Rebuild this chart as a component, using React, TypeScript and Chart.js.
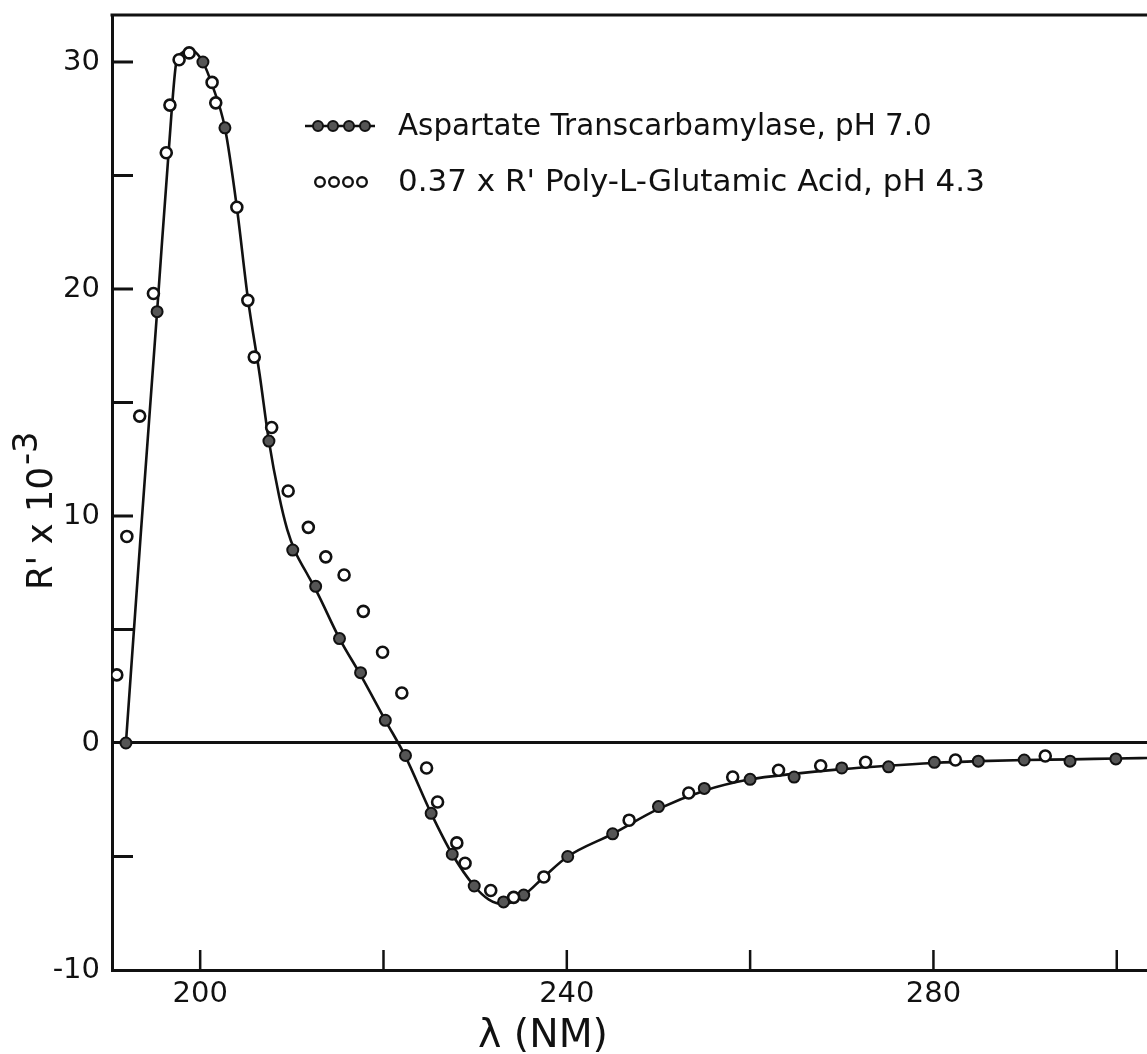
import React, { useEffect, useRef } from 'react';
import { Chart, registerables } from 'chart.js';

Chart.register(...registerables);

// ---- data ----
const curveWavelength = [191.9, 193.5, 195.3, 196.9, 197.4, 198.0, 198.9, 199.7, 200.3, 201.3, 202.7, 204.0, 205.2, 206.5, 207.5, 208.6, 209.5, 210.4, 211.6, 212.8, 215.2, 217.5, 220.2, 222.4, 225.2, 227.5, 229.9, 231.5, 233.1, 235.3, 237.5, 240.1, 245.0, 250.0, 255.0, 260.0, 265.0, 270.0, 275.0, 280.0, 285.0, 290.0, 295.0, 300.0, 303.5];
const curveValues = [0, 9.1, 19.0, 27.9, 30.0, 30.4, 30.55, 30.35, 30.0, 29.0, 27.1, 23.6, 19.6, 16.2, 13.3, 10.9, 9.4, 8.4, 7.5, 6.6, 4.6, 3.0, 1.0, -0.6, -3.1, -4.9, -6.3, -6.9, -7.1, -6.7, -5.9, -5.0, -4.0, -2.9, -2.1, -1.6, -1.35, -1.15, -1.0, -0.88, -0.8, -0.75, -0.72, -0.68, -0.66];

const atcWavelength = [191.9, 195.3, 200.3, 202.7, 207.5, 210.1, 212.6, 215.2, 217.5, 220.2, 222.4, 225.2, 227.5, 229.9, 233.1, 235.3, 240.1, 245.0, 250.0, 255.0, 260.0, 264.8, 270.0, 275.1, 280.1, 284.9, 289.9, 294.9, 299.9];
const atcValues = [0, 19.0, 30.0, 27.1, 13.3, 8.5, 6.9, 4.6, 3.1, 1.0, -0.55, -3.1, -4.9, -6.3, -7.0, -6.7, -5.0, -4.0, -2.8, -2.0, -1.6, -1.5, -1.1, -1.05, -0.85, -0.8, -0.75, -0.8, -0.7];

const pgaWavelength = [190.9, 192.0, 193.4, 194.9, 196.3, 196.7, 197.7, 198.8, 201.3, 201.7, 204.0, 205.2, 205.9, 207.8, 209.6, 211.8, 213.7, 215.7, 217.8, 219.9, 222.0, 224.7, 225.9, 228.0, 228.9, 231.7, 234.2, 237.5, 246.8, 253.3, 258.1, 263.1, 267.7, 272.6, 282.4, 292.2];
const pgaValues = [3.0, 9.1, 14.4, 19.8, 26.0, 28.1, 30.1, 30.4, 29.1, 28.2, 23.6, 19.5, 17.0, 13.9, 11.1, 9.5, 8.2, 7.4, 5.8, 4.0, 2.2, -1.1, -2.6, -4.4, -5.3, -6.5, -6.8, -5.9, -3.4, -2.2, -1.5, -1.2, -1.0, -0.85, -0.75, -0.57];

const xLabelValues = [200, 240, 280];
const yLabelValues = [30, 20, 10, 0, -10];
const legendLabels = ['Aspartate Transcarbamylase, pH 7.0', "0.37 x R' Poly-L-Glutamic Acid, pH 4.3"];
const xTitle = 'λ (NM)';
const yTitleMain = "R' x 10";
const yTitleSup = '-3';

const FONT = '"DejaVu Sans", sans-serif';
const W = 1147;
const H = 1054;

function fitSize(ctx: CanvasRenderingContext2D, text: string, target: number, base: number) {
  ctx.font = `${base}px ${FONT}`;
  const w = ctx.measureText(text).width;
  return (base * target) / w;
}

const decorPlugin = {
  id: 'decor',
  beforeDatasetsDraw(chart: any) {
    const ctx: CanvasRenderingContext2D = chart.ctx;
    const xs = chart.scales.x;
    const ys = chart.scales.y;
    const area = chart.chartArea;
    ctx.save();
    ctx.strokeStyle = '#111';
    ctx.lineCap = 'butt';
    // top border
    ctx.lineWidth = 3;
    ctx.beginPath();
    ctx.moveTo(area.left - 1.5, area.top);
    ctx.lineTo(W, area.top);
    ctx.stroke();
    // inward y ticks every 5
    for (let v = -5; v <= 30; v += 5) {
      if (v === 0) continue;
      const py = ys.getPixelForValue(v);
      ctx.beginPath();
      ctx.moveTo(area.left, py);
      ctx.lineTo(area.left + 21, py);
      ctx.stroke();
    }
    // inward x ticks every 20
    ctx.lineWidth = 2.5;
    for (let v = 200; v <= 300; v += 20) {
      const px = xs.getPixelForValue(v);
      ctx.beginPath();
      ctx.moveTo(px, area.bottom);
      ctx.lineTo(px, area.bottom - 20);
      ctx.stroke();
    }
    ctx.restore();
  },
  afterDraw(chart: any) {
    const ctx: CanvasRenderingContext2D = chart.ctx;
    ctx.save();
    ctx.fillStyle = '#111';
    ctx.strokeStyle = '#111';
    // legend row 1
    ctx.lineWidth = 2.5;
    ctx.beginPath();
    ctx.moveTo(305, 126);
    ctx.lineTo(375, 126);
    ctx.stroke();
    [318, 333, 349, 365].forEach((x) => {
      ctx.beginPath();
      ctx.arc(x, 126, 5, 0, Math.PI * 2);
      ctx.fillStyle = '#555';
      ctx.fill();
      ctx.lineWidth = 2;
      ctx.stroke();
    });
    // legend row 2
    [320, 334, 348, 362].forEach((x) => {
      ctx.beginPath();
      ctx.arc(x, 182, 4.8, 0, Math.PI * 2);
      ctx.fillStyle = '#fff';
      ctx.fill();
      ctx.lineWidth = 2.4;
      ctx.stroke();
    });
    ctx.fillStyle = '#111';
    ctx.textAlign = 'left';
    ctx.textBaseline = 'middle';
    let s = fitSize(ctx, legendLabels[0], 534, 26);
    ctx.font = `${s}px ${FONT}`;
    ctx.fillText(legendLabels[0], 398, 127);
    s = fitSize(ctx, legendLabels[1], 587, 26);
    ctx.font = `${s}px ${FONT}`;
    ctx.fillText(legendLabels[1], 398, 183);

    // x title
    s = fitSize(ctx, xTitle, 130, 40);
    ctx.font = `${s}px ${FONT}`;
    ctx.textAlign = 'left';
    ctx.textBaseline = 'alphabetic';
    ctx.fillText(xTitle, 478, 1047);

    // y title (rotated)
    ctx.translate(52, 590);
    ctx.rotate(-Math.PI / 2);
    const sm = fitSize(ctx, yTitleMain, 123, 34);
    ctx.font = `${sm}px ${FONT}`;
    ctx.textAlign = 'left';
    ctx.textBaseline = 'alphabetic';
    ctx.fillText(yTitleMain, 0, 0);
    const wMain = ctx.measureText(yTitleMain).width;
    ctx.font = `${sm * 0.95}px ${FONT}`;
    ctx.fillText(yTitleSup, wMain + 2, -sm * 0.42);
    ctx.restore();
  },
};

export default function App() {
  const ref = useRef<HTMLCanvasElement | null>(null);
  useEffect(() => {
    if (!ref.current) return;
    const chart = new Chart(ref.current, {
      type: 'scatter',
      data: {
        datasets: [
          {
            label: 'curve',
            data: curveWavelength.map((x, i) => ({ x, y: curveValues[i] })),
            showLine: true,
            borderColor: '#111',
            borderWidth: 2.6,
            pointRadius: 0,
            cubicInterpolationMode: 'monotone',
            order: 3,
          },
          {
            label: legendLabels[0],
            data: atcWavelength.map((x, i) => ({ x, y: atcValues[i] })),
            showLine: false,
            pointRadius: 5.5,
            pointBorderWidth: 2,
            pointBackgroundColor: '#555',
            pointBorderColor: '#111',
            order: 2,
          },
          {
            label: legendLabels[1],
            data: pgaWavelength.map((x, i) => ({ x, y: pgaValues[i] })),
            showLine: false,
            pointRadius: 5.5,
            pointBorderWidth: 2.6,
            pointBackgroundColor: '#fff',
            pointBorderColor: '#111',
            order: 1,
          },
        ],
      },
      options: {
        responsive: false,
        animation: false,
        maintainAspectRatio: false,
        layout: { autoPadding: false, padding: { top: 15, right: 0, left: 0, bottom: 0 } },
        plugins: { legend: { display: false }, tooltip: { enabled: false } },
        scales: {
          x: {
            type: 'linear',
            min: 190.38,
            max: 303.3,
            afterFit: (s: any) => {
              s.height = H - 970;
              s.paddingLeft = 0;
              s.paddingRight = 0;
            },
            border: { display: true, color: '#111', width: 3 },
            grid: { display: false, drawTicks: false },
            ticks: {
              stepSize: 20,
              includeBounds: false,
              autoSkip: false,
              maxRotation: 0,
              padding: 7,
              color: '#111',
              font: { family: FONT, size: 29 },
              callback: (v: any) => (xLabelValues.includes(Number(v)) ? String(v) : ''),
            },
          },
          y: {
            type: 'linear',
            min: -10,
            max: 32.07,
            afterFit: (s: any) => {
              s.width = 112;
              s.paddingTop = 0;
              s.paddingBottom = 0;
            },
            border: { display: true, color: '#111', width: 3 },
            grid: {
              drawTicks: false,
              color: (c: any) => (c.tick && c.tick.value === 0 ? '#111' : 'rgba(0,0,0,0)'),
              lineWidth: (c: any) => (c.tick && c.tick.value === 0 ? 3 : 0),
            },
            ticks: {
              stepSize: 5,
              includeBounds: false,
              autoSkip: false,
              padding: 12,
              color: '#111',
              font: { family: FONT, size: 29 },
              callback: (v: any) => (yLabelValues.includes(Number(v)) ? String(v) : ''),
            },
          },
        },
      },
      plugins: [decorPlugin],
    } as any);
    return () => chart.destroy();
  }, []);
  return (
    <div style={{ position: 'absolute', left: 0, top: 0, width: W, height: H, background: '#fff' }}>
      <canvas ref={ref} width={W} height={H} style={{ width: W, height: H, display: 'block' }} />
    </div>
  );
}
